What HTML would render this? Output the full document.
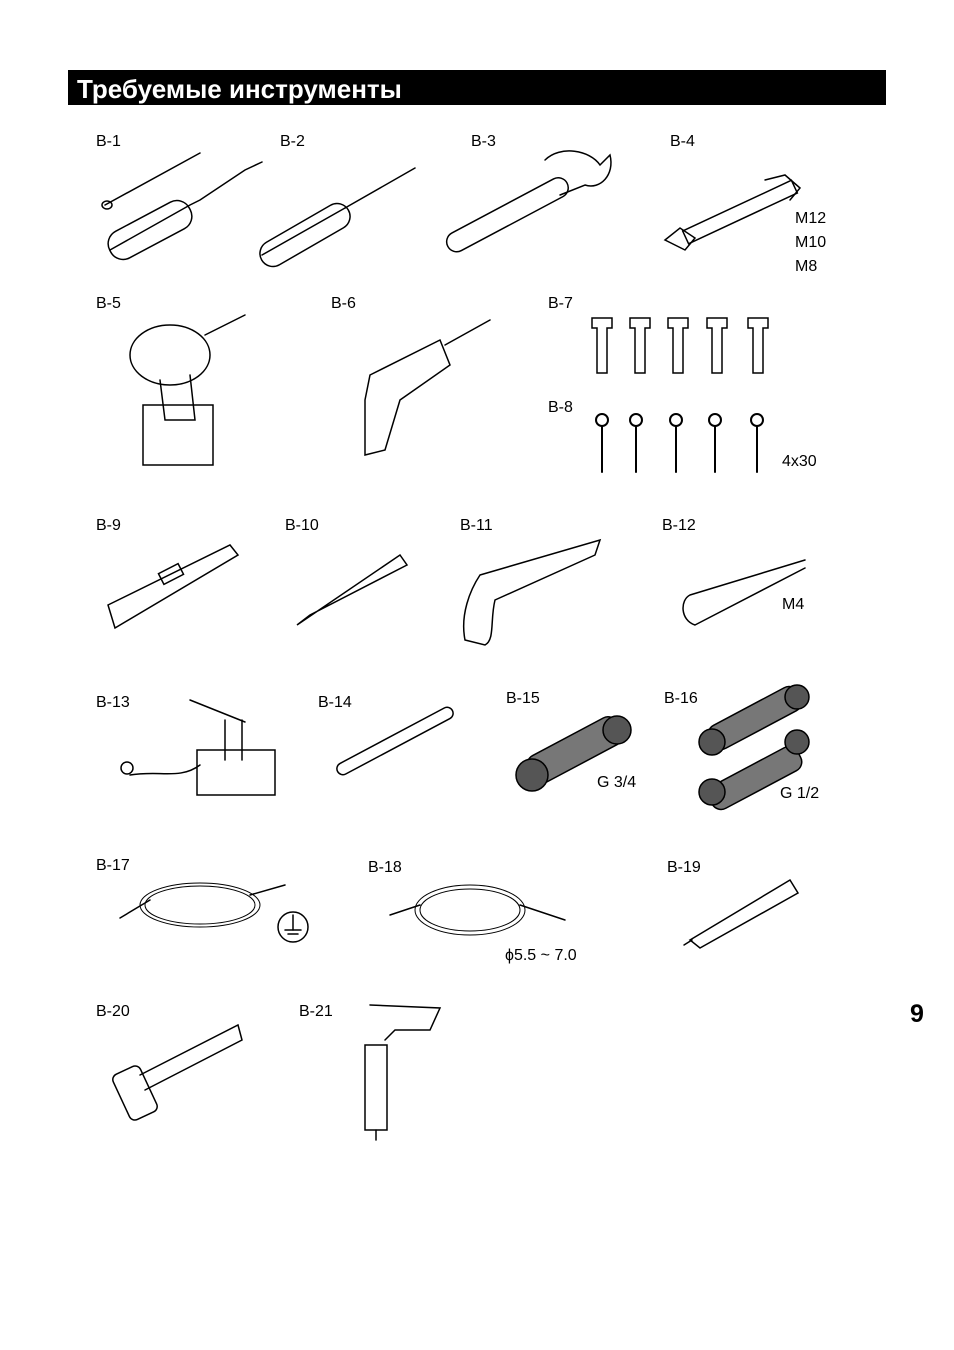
<!DOCTYPE html>
<html><head><meta charset="utf-8"><style>
html,body{margin:0;padding:0;background:#fff}
body{width:954px;height:1350px;position:relative;overflow:hidden;font-family:"Liberation Sans",Arial,sans-serif}
.bar{position:absolute;left:68px;top:70px;width:818px;height:35px;background:#000;color:#fff;font-weight:bold;font-size:26px;line-height:38px;padding-left:9px;box-sizing:border-box;white-space:nowrap}
.l{position:absolute;font-size:16px;color:#000;line-height:18px}
.pn{position:absolute;left:910px;top:1000px;font-size:25px;font-weight:bold}
svg{position:absolute;left:0;top:0}
</style></head><body>
<div class="bar">Требуемые инструменты</div>
<div class="pn">9</div>
<div class="l" style="left:96px;top:133px">B-1</div>
<div class="l" style="left:280px;top:133px">B-2</div>
<div class="l" style="left:471px;top:133px">B-3</div>
<div class="l" style="left:670px;top:133px">B-4</div>
<div class="l" style="left:795px;top:210px">M12</div>
<div class="l" style="left:795px;top:234px">M10</div>
<div class="l" style="left:795px;top:258px">M8</div>
<div class="l" style="left:96px;top:295px">B-5</div>
<div class="l" style="left:331px;top:295px">B-6</div>
<div class="l" style="left:548px;top:295px">B-7</div>
<div class="l" style="left:548px;top:399px">B-8</div>
<div class="l" style="left:782px;top:453px">4x30</div>
<div class="l" style="left:96px;top:517px">B-9</div>
<div class="l" style="left:285px;top:517px">B-10</div>
<div class="l" style="left:460px;top:517px">B-11</div>
<div class="l" style="left:662px;top:517px">B-12</div>
<div class="l" style="left:782px;top:596px">M4</div>
<div class="l" style="left:96px;top:694px">B-13</div>
<div class="l" style="left:318px;top:694px">B-14</div>
<div class="l" style="left:506px;top:690px">B-15</div>
<div class="l" style="left:664px;top:690px">B-16</div>
<div class="l" style="left:597px;top:774px">G 3/4</div>
<div class="l" style="left:780px;top:785px">G 1/2</div>
<div class="l" style="left:96px;top:857px">B-17</div>
<div class="l" style="left:368px;top:859px">B-18</div>
<div class="l" style="left:667px;top:859px">B-19</div>
<div class="l" style="left:505px;top:947px">ϕ5.5 ~ 7.0</div>
<div class="l" style="left:96px;top:1003px">B-20</div>
<div class="l" style="left:299px;top:1003px">B-21</div>
<svg width="954" height="1350" fill="none" stroke="#000" stroke-width="1.5" stroke-linecap="round">
<line x1="105" y1="205" x2="200" y2="153"/><ellipse cx="107" cy="205" rx="5" ry="4"/>
<path d="M110 250 L190 205 L200 200 L245 170 L262 162"/><rect x="105" y="215" width="90" height="30" rx="14" transform="rotate(-28 150 230)"/>
<path d="M262 255 L345 208"/><rect x="255" y="222" width="100" height="26" rx="13" transform="rotate(-30 305 235)"/><line x1="345" y1="208" x2="415" y2="168"/>
<rect x="440" y="205" width="135" height="20" rx="10" transform="rotate(-28 507 215)"/>
<path d="M545 160 C560 145 590 150 600 165 L610 155 C615 175 600 190 585 185 L560 195"/>
<rect x="680" y="205" width="120" height="14" transform="rotate(-25 740 212)"/>
<path d="M665 240 L680 228 L695 238 L685 250 Z"/><path d="M765 180 L785 175 L800 188 L790 200"/>
<ellipse cx="170" cy="355" rx="40" ry="30"/><line x1="205" y1="335" x2="245" y2="315"/><path d="M160 380 L165 420 L195 420 L190 375"/><rect x="143" y="405" width="70" height="60"/>
<path d="M370 375 L440 340 L450 365 L400 400 L385 450 L365 455 L365 400 Z"/><line x1="445" y1="345" x2="490" y2="320"/>
<g>
<path d="M592 318 h20 v10 h-5 v45 h-10 v-45 h-5 Z"/><path d="M630 318 h20 v10 h-5 v45 h-10 v-45 h-5 Z"/><path d="M668 318 h20 v10 h-5 v45 h-10 v-45 h-5 Z"/><path d="M707 318 h20 v10 h-5 v45 h-10 v-45 h-5 Z"/><path d="M748 318 h20 v10 h-5 v45 h-10 v-45 h-5 Z"/>
</g>
<g stroke-width="2">
<circle cx="602" cy="420" r="6"/><line x1="602" y1="426" x2="602" y2="472"/>
<circle cx="636" cy="420" r="6"/><line x1="636" y1="426" x2="636" y2="472"/>
<circle cx="676" cy="420" r="6"/><line x1="676" y1="426" x2="676" y2="472"/>
<circle cx="715" cy="420" r="6"/><line x1="715" y1="426" x2="715" y2="472"/>
<circle cx="757" cy="420" r="6"/><line x1="757" y1="426" x2="757" y2="472"/>
</g>
<path d="M108 605 L230 545 L238 555 L115 628 Z"/><rect x="160" y="568" width="22" height="12" transform="rotate(-27 171 574)"/>
<path d="M297 625 L400 555 L407 565 L310 615 Z"/>
<path d="M480 575 L600 540 L595 555 L495 600 C490 620 495 640 485 645 L465 640 C460 615 470 590 480 575 Z"/>
<path d="M690 595 L805 560 M690 595 C680 600 680 620 695 625 L805 568"/>
<rect x="197" y="750" width="78" height="45"/><line x1="225" y1="760" x2="225" y2="720"/><line x1="242" y1="760" x2="242" y2="720"/><line x1="190" y1="700" x2="245" y2="722"/><path d="M200 765 C180 780 160 770 130 775"/><circle cx="127" cy="768" r="6"/>
<rect x="330" y="735" width="130" height="12" rx="6" transform="rotate(-28 395 741)"/>
<g fill="#777"><rect x="525" y="735" width="100" height="30" rx="10" transform="rotate(-28 575 750)"/></g>
<circle cx="532" cy="775" r="16" fill="#555"/><circle cx="617" cy="730" r="14" fill="#555"/>
<g fill="#777"><rect x="705" y="705" width="100" height="26" rx="10" transform="rotate(-28 755 718)"/><rect x="705" y="765" width="100" height="26" rx="10" transform="rotate(-28 755 778)"/></g>
<circle cx="712" cy="742" r="13" fill="#555"/><circle cx="797" cy="697" r="12" fill="#555"/><circle cx="712" cy="792" r="13" fill="#555"/><circle cx="797" cy="742" r="12" fill="#555"/>
<ellipse cx="200" cy="905" rx="60" ry="22" stroke-width="1"/><ellipse cx="200" cy="905" rx="55" ry="19" stroke-width="1"/><line x1="120" y1="918" x2="150" y2="900"/><line x1="250" y1="895" x2="285" y2="885"/><circle cx="293" cy="927" r="15"/><line x1="293" y1="915" x2="293" y2="930"/><line x1="285" y1="930" x2="301" y2="930"/><line x1="288" y1="934" x2="298" y2="934"/>
<ellipse cx="470" cy="910" rx="55" ry="25" stroke-width="1"/><ellipse cx="470" cy="910" rx="50" ry="21" stroke-width="1"/><line x1="390" y1="915" x2="420" y2="905"/><line x1="520" y1="905" x2="565" y2="920"/>
<path d="M690 940 L790 880 L798 893 L700 948 Z"/><line x1="684" y1="945" x2="692" y2="940"/>
<path d="M140 1075 L238 1025 L242 1040 L145 1090"/><rect x="120" y="1068" width="30" height="50" rx="6" transform="rotate(-25 135 1093)"/>
<path d="M370 1005 L440 1008 L430 1030 L395 1030 L385 1040"/><rect x="365" y="1045" width="22" height="85"/><line x1="376" y1="1130" x2="376" y2="1140"/>
</svg>
</body></html>
